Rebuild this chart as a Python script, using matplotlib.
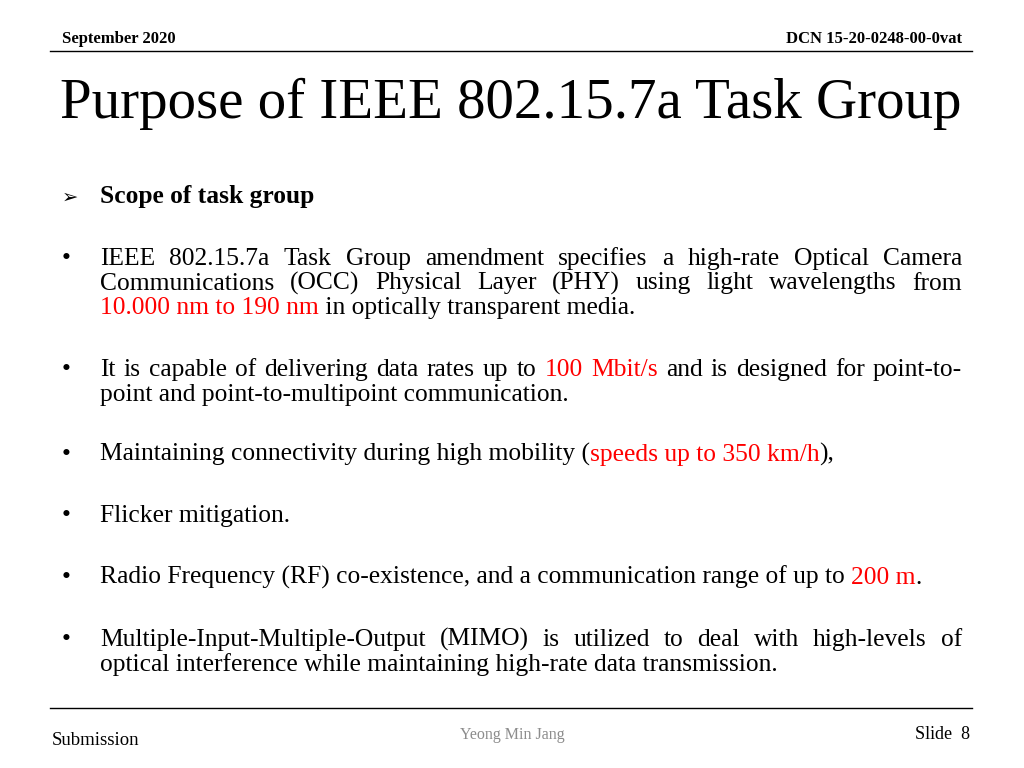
import matplotlib
matplotlib.use("Agg")
import matplotlib.pyplot as plt

FONT = "Liberation Serif"
RED = "#ff0000"

header_left = "September 2020"
header_right = "DCN 15-20-0248-00-0vat"
title = "Purpose of IEEE 802.15.7a Task Group"
scope = "Scope of task group"

# each bullet: list of lines; each line: (segments, justified)
bullets = [
    [([("IEEE 802.15.7a Task Group amendment specifies a high-rate Optical Camera", "k")], True),
     ([("Communications (OCC) Physical Layer (PHY) using light wavelengths from", "k")], True),
     ([("10.000 nm to 190 nm", RED), (" in optically transparent media.", "k")], False)],
    [([("It is capable of delivering data rates up to ", "k"), ("100 Mbit/s", RED),
       (" and is designed for point-to-", "k")], True),
     ([("point and point-to-multipoint communication.", "k")], False)],
    [([("Maintaining connectivity during high mobility (", "k"), ("speeds up to 350 km/h", RED),
       ("),", "k")], False)],
    [([("Flicker mitigation.", "k")], False)],
    [([("Radio Frequency (RF) co-existence, and a communication range of up to ", "k"),
       ("200 m", RED), (".", "k")], False)],
    [([("Multiple-Input-Multiple-Output (MIMO) is utilized to deal with high-levels of", "k")], True),
     ([("optical interference while maintaining high-rate data transmission.", "k")], False)],
]
bullet_y = [265, 376, 461, 522, 584, 646]
footer_left = "Submission"
footer_mid = "Yeong Min Jang"
footer_right = "Slide  8"

fig = plt.figure(figsize=(10.24, 7.68), dpi=100)
ax = fig.add_axes([0, 0, 1, 1])
ax.set_xlim(0, 1024)
ax.set_ylim(768, 0)
ax.axis("off")
fig.canvas.draw()
renderer = fig.canvas.get_renderer()
inv = ax.transData.inverted()
SIZE = 18.4


def width(s):
    t = ax.text(0, 300, s.replace(" ", "\u00a0"), fontsize=SIZE, family=FONT)
    bb = t.get_window_extent(renderer)
    t.remove()
    p0 = inv.transform((bb.x0, bb.y0))
    p1 = inv.transform((bb.x1, bb.y0))
    return p1[0] - p0[0]


def draw_line(segs, x, y, right=None):
    if right is None:
        for s, c in segs:
            ax.text(x, y, s, fontsize=SIZE, family=FONT, color=c, va="baseline")
            x += width(s)
        return
    words = []
    for s, c in segs:
        for w in s.split(" "):
            if w:
                words.append((w, c))
    ws = [width(w) for w, _ in words]
    gap = (right - x - sum(ws)) / (len(words) - 1)
    for (w, c), wd in zip(words, ws):
        ax.text(x, y, w, fontsize=SIZE, family=FONT, color=c, va="baseline")
        x += wd + gap


ax.text(62, 43, header_left, fontsize=12, family=FONT, weight="bold", va="baseline")
ax.text(962, 43, header_right, fontsize=12, family=FONT, weight="bold", va="baseline", ha="right")
ax.plot([50, 972], [51, 51], color="k", lw=1)
ax.text(60, 118, title, fontsize=41, family=FONT, va="baseline")
ax.text(62, 203, "\u27a2", fontsize=14, family="DejaVu Sans", va="baseline")
ax.text(100, 203, scope, fontsize=SIZE, family=FONT, weight="bold", va="baseline")

for lines, y in zip(bullets, bullet_y):
    ax.text(62, y, "\u2022", fontsize=SIZE, family=FONT, va="baseline")
    for i, (segs, just) in enumerate(lines):
        draw_line(segs, 100, y + i * 24.5, 962 if just else None)

ax.plot([50, 972], [708, 708], color="k", lw=1)
ax.text(52, 745, footer_left, fontsize=13.5, family=FONT, va="baseline")
ax.text(512, 739, footer_mid, fontsize=11.5, family=FONT, color="#8c8c8c", va="baseline", ha="center")
ax.text(970, 739, footer_right, fontsize=13, family=FONT, va="baseline", ha="right")

fig.savefig("out.png", dpi=100)
